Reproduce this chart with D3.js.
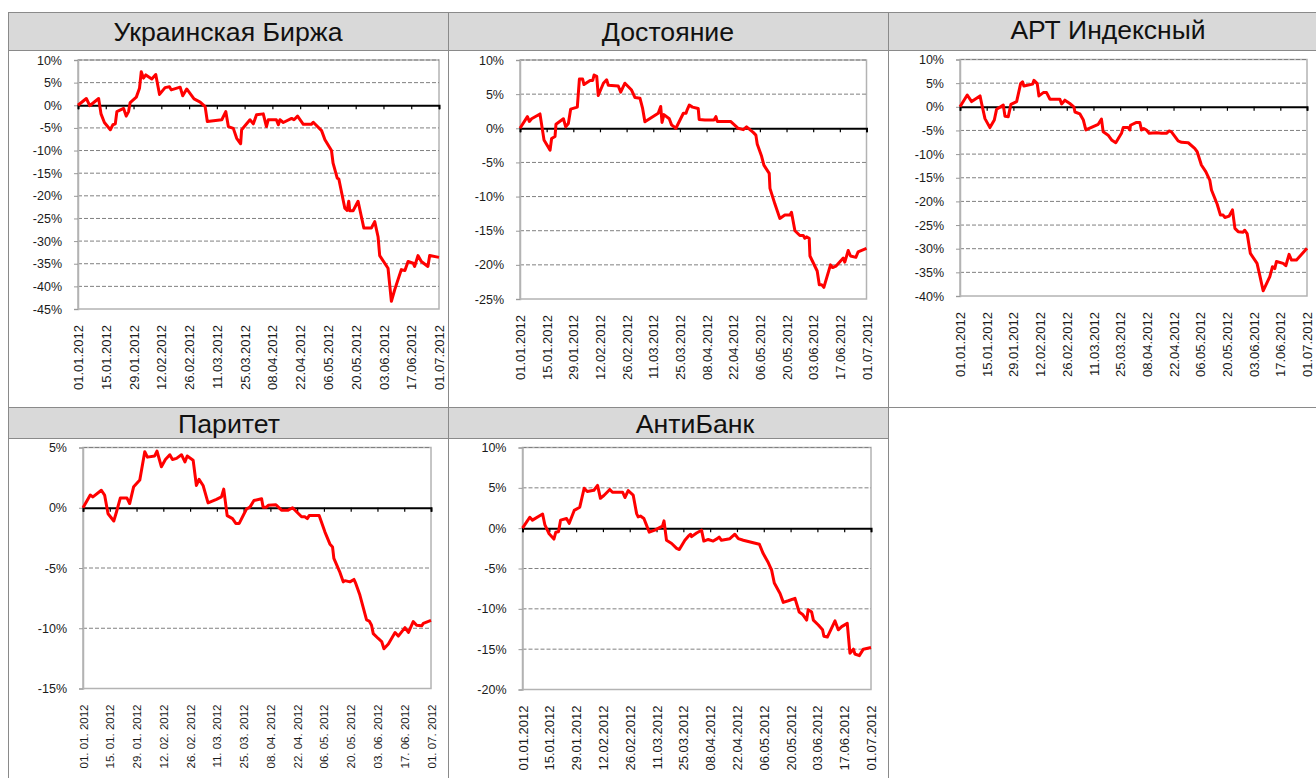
<!DOCTYPE html>
<html><head><meta charset="utf-8">
<script src="https://cdn.jsdelivr.net/npm/d3@7"></script>
<style>body{margin:0;background:#fff}svg{display:block}text{font-family:"Liberation Sans",Arial,sans-serif}</style>
</head><body>
<svg id="c" width="1316" height="778"></svg>
<script>
// ---------- data ----------
const titles = ["Украинская Биржа", "Достояние", "АРТ Индексный", "Паритет", "АнтиБанк"];
const xTickLabels = ["01.01.2012","15.01.2012","29.01.2012","12.02.2012","26.02.2012","11.03.2012","25.03.2012","08.04.2012","22.04.2012","06.05.2012","20.05.2012","03.06.2012","17.06.2012","01.07.2012"];
const xTickLabelsSpaced = ["01. 01. 2012","15. 01. 2012","29. 01. 2012","12. 02. 2012","26. 02. 2012","11. 03. 2012","25. 03. 2012","08. 04. 2012","22. 04. 2012","06. 05. 2012","20. 05. 2012","03. 06. 2012","17. 06. 2012","01. 07. 2012"];
const ukYTicks = [10,5,0,-5,-10,-15,-20,-25,-30,-35,-40,-45];
const dostYTicks = [10,5,0,-5,-10,-15,-20,-25];
const artYTicks = [10,5,0,-5,-10,-15,-20,-25,-30,-35,-40];
const parYTicks = [5,0,-5,-10,-15];
const antiYTicks = [10,5,0,-5,-10,-15,-20];

// days since 01.01.2012 and returns in %
const ukDays = [0,4.2,5.9,10.4,11.6,13.3,16.3,17.6,18.8,19.6,23,24.3,25.5,26.3,29.4,31,31.9,33,34.2,37.2,39.2,41.1,43.9,46.1,47,51.5,52.8,54.8,58.5,61.6,64.1,65.2,72.5,74.5,75.8,78.3,80,82,82.5,86.7,88.4,90,93.4,95,95.9,100,101,101.8,103.5,107.7,108.9,110.7,113.6,117.7,118.6,122.8,124.5,127.8,128.6,130.7,131.5,134.5,135.7,136.5,137,138.7,141.2,144.1,147.9,149.6,151.3,152.1,156.3,158,159.7,163,164.8,166.4,169,169.7,171.4,173.1,176.4,177.3,182];
const ukValues = [0,1.5,-0.1,1.5,-1.9,-3.8,-5.4,-4.3,-4.1,-1.4,-0.7,-2.4,-1.4,0.6,1.8,3.75,7.4,6.0,6.7,5.8,6.8,2.4,3.9,4.1,3.4,4.0,2.1,3.6,1.4,0.7,-0.3,-3.6,-3.2,-1.4,-4.7,-5.1,-7.3,-8.5,-5.4,-3.2,-4.1,-2.1,-1.9,-4.7,-3.2,-3.2,-4.3,-3.2,-3.8,-2.9,-3.2,-2.4,-4.2,-4.2,-3.75,-5.6,-7.6,-10,-12.8,-16.1,-16.3,-22.7,-23.2,-21.2,-23.3,-23.3,-21.2,-27.1,-27.1,-25.7,-29.1,-33.2,-36,-43.3,-40.7,-36.3,-36.5,-34.5,-34.9,-35.6,-33.2,-34.5,-35.6,-33.2,-33.6];

const dostDays = [0,3.9,4.9,6.1,10.5,12.6,15.8,16.6,18.4,18.9,22.8,24,25.4,26.6,30.1,31.2,32.9,33.6,36.8,38.2,38.9,40.3,41.1,43.8,45.5,46.4,51.6,52.9,55.1,58.6,60.4,63,64.4,65.6,72.6,73.9,74.6,75.6,78.4,79.6,81.9,85.8,87.2,87.8,88.9,90.6,93.6,94.1,97.1,101.9,102.9,103.6,110.6,114.6,117.3,119,122.5,123.9,124.6,126.9,128.1,130.9,131.3,133.9,136.5,139.1,141.8,142.6,144.4,147,148.8,149.6,150.5,151.9,152.3,156.1,157.2,158.4,159.6,163.1,164.2,165.9,169.8,170.6,172.4,173.6,176.4,177.6,182];
const dostValues = [0,1.7,1.0,1.4,2.1,-1.7,-3.2,-1.5,-1.2,0.6,1.4,0.2,0.7,2.8,3.1,7.2,7.2,6.4,7.0,7.0,7.8,7.6,4.8,6.6,7.1,6.3,6.2,5.3,6.6,5.6,4.5,4.4,2.9,0.95,2.2,3.2,0.85,2.0,1.4,0.5,0,2.2,2.2,2.7,3.4,3.1,2.9,1.3,1.2,1.2,1.7,1.0,1.0,0,-0.2,0.2,-0.6,-1.0,-2.3,-4.1,-5.4,-6.6,-8.8,-11.1,-13.2,-12.7,-12.7,-12.3,-15.0,-15.7,-15.7,-16.1,-15.9,-16.1,-18.7,-20.9,-22.9,-22.9,-23.3,-20.0,-20.4,-20.2,-19.0,-19.6,-17.9,-18.7,-18.9,-18.1,-17.6];

const artDays = [0,3.8,6.1,10.5,11.4,13.1,15.7,18,19.2,22.7,23.6,25.3,26.7,29.7,31.8,32.8,33.5,38.1,38.8,40.5,41.4,43.7,45.4,47.2,52.4,53.3,55,57.6,59.7,60.3,62.9,64.7,66,72.5,74.2,75.1,77.7,79.5,81.7,84.7,85.6,88.2,89.1,89.4,92.6,94.3,95.2,96.4,97.8,99.2,103.1,105.7,108.3,109.7,110.9,114.4,116.2,119.7,123.1,124.4,126.6,128.9,131,131.9,134.9,136.6,138,138.9,141.2,142.9,144.2,145.9,148.5,149.3,150.6,152.3,155.8,157.2,159,162.5,163.9,165.1,166,169.5,170.9,172.6,173.9,176.5,182];
const artValues = [0,2.5,1.1,2.3,0.6,-2.5,-4.4,-2.8,-0.5,0.35,-2.0,-2.1,0.5,1.1,4.9,5.3,4.4,4.8,5.6,4.9,2.3,3.0,3.0,1.6,1.6,0.6,1.4,0.7,0,-1.1,-1.5,-2.8,-4.9,-3.7,-2.6,-5.3,-6.0,-7.0,-7.6,-5.6,-4.4,-4.4,-4.9,-3.9,-3.3,-3.3,-4.9,-4.6,-4.9,-5.6,-5.5,-5.6,-5.6,-5.1,-5.3,-7.2,-7.5,-7.6,-8.8,-9.5,-12.3,-13.7,-15.5,-17.6,-20.6,-22.9,-22.9,-23.4,-23.1,-21.8,-25.7,-26.4,-26.5,-26.1,-26.8,-31.0,-33.1,-35.6,-38.9,-35.9,-33.8,-34.2,-32.7,-33.1,-33.6,-31.2,-32.4,-32.4,-29.9];

const parDays = [0,3.8,5.2,9.6,11.3,13.1,16.1,17.5,19.5,23,24.4,26.5,29.7,32.3,33.7,37.5,38.7,41,43.1,45.4,46.8,48.9,51.5,53.3,54.5,57.6,59.3,60.7,62.8,65.4,69.8,72.4,73.6,75.4,78.2,79.9,81.7,85.5,87.3,89.4,93.4,94.2,96,96.9,100.9,103.8,107.3,109.6,114.3,116,117.3,118.3,123.5,126.5,129.1,130.5,131.2,134.2,136.1,137,139.6,141.7,142.7,144.8,148.3,149.7,150.9,151.8,154.4,156.2,157.4,159.7,163.2,164.9,168.4,170.2,172.7,174.5,177.1,178,182];
const parValues = [0,1.05,0.9,1.45,1.05,-0.5,-1.1,-0.35,0.8,0.8,0.35,1.75,2.3,4.65,4.2,4.3,4.7,3.4,4.0,4.4,4.0,4.1,4.4,3.8,4.3,3.95,1.85,2.35,1.85,0.4,0.7,0.9,1.55,-0.65,-0.9,-1.3,-1.3,-0.1,0.05,0.6,0.75,0.05,0.05,0.2,0.25,-0.2,-0.2,0,-0.75,-0.75,-0.9,-0.65,-0.65,-2.0,-3.0,-3.25,-4.2,-5.3,-6.15,-6.05,-6.15,-5.95,-6.3,-7.25,-9.3,-9.4,-9.75,-10.45,-10.85,-11.1,-11.7,-11.3,-10.35,-10.65,-9.95,-10.35,-9.45,-9.75,-9.8,-9.6,-9.35];

const antiDays = [0,3.8,5.2,10.5,11.7,13.9,16.4,17.4,18.8,19.9,23,24.4,27,29.9,32.2,33.8,37.3,39.2,40.7,42.5,45.6,47,52.3,53.5,55.2,57.8,59.6,60.4,61.6,63.4,64.4,66.2,69.1,73.1,73.9,75.2,77.9,80.5,81.9,84.8,86.6,87.8,88.3,90.9,93.5,94.7,97,99.6,101.7,102.7,103.9,108.3,110.9,112.7,115.3,123.7,125.7,128.4,130.1,131.5,134.5,136.2,138.8,142.3,144.5,146.3,148.4,149.2,151,151.9,154.5,156.7,157.4,159.2,163.2,164.9,166.7,169.6,171,172.8,173.6,175.9,178,182];
const antiValues = [0,1.35,1.0,1.75,0.4,-0.7,-1.35,-0.5,-0.45,1.0,1.2,0.6,2.2,2.6,4.95,4.55,4.7,5.3,3.7,4.05,4.8,4.45,4.45,3.8,4.65,4.1,1.8,1.4,1.5,1.2,0.6,-0.5,-0.25,0.25,0.9,-1.5,-1.9,-2.5,-2.65,-1.5,-1.0,-0.75,-1.05,-0.6,-0.25,-1.6,-1.4,-1.6,-1.3,-1.1,-1.5,-1.3,-0.75,-1.3,-1.5,-2.0,-3.15,-4.3,-5.2,-6.8,-8.1,-9.2,-9.0,-8.7,-10.4,-10.7,-11.4,-10.1,-10.4,-11.4,-12.0,-12.6,-13.4,-13.5,-11.5,-12.6,-12.2,-11.8,-15.5,-15.0,-15.6,-15.8,-15.0,-14.8];

// ---------- layout ----------
const panels = [
  {title:titles[0], days:ukDays, values:ukValues, yTicks:ukYTicks, xLabels:xTickLabels, fs:13,
   plot:{l:78,t:60,r:439,b:309}, tx:228, ty:41, tfs:26.7},
  {title:titles[1], days:dostDays, values:dostValues, yTicks:dostYTicks, xLabels:xTickLabels, fs:13,
   plot:{l:520,t:60,r:866.5,b:299}, tx:668, ty:41, tfs:26.7},
  {title:titles[2], days:artDays, values:artValues, yTicks:artYTicks, xLabels:xTickLabels, fs:13,
   plot:{l:960,t:59.5,r:1307,b:296}, tx:1108, ty:38.5, tfs:26.5},
  {title:titles[3], days:parDays, values:parValues, yTicks:parYTicks, xLabels:xTickLabelsSpaced, fs:11.5,
   plot:{l:83,t:447.5,r:431,b:688.5}, tx:229, ty:433, tfs:26.7},
  {title:titles[4], days:antiDays, values:antiValues, yTicks:antiYTicks, xLabels:xTickLabels, fs:13,
   plot:{l:522.5,t:447.5,r:871,b:689.5}, tx:695, ty:433, tfs:26.7}
];

const svg = d3.select("#c");
const BORDER = "#8a8a8a";

// title bands
const bands = [
  {x:8,y:12,w:440,h:38},{x:448,y:12,w:440,h:38},{x:888,y:12,w:440,h:38},
  {x:8,y:407,w:440,h:31},{x:448,y:407,w:440,h:31}
];
svg.selectAll("rect.band").data(bands).join("rect")
  .attr("x",d=>d.x).attr("y",d=>d.y).attr("width",d=>d.w).attr("height",d=>d.h)
  .attr("fill","#d9d9d9");

// grid of cell borders
const gl = svg.append("g").attr("stroke",BORDER).attr("stroke-width",1).attr("shape-rendering","crispEdges");
const hLines = [[8,1316,12.5],[8,1316,50.5],[8,1316,407.5],[8,888,438.5]];
hLines.forEach(h=>gl.append("line").attr("x1",h[0]).attr("x2",h[1]).attr("y1",h[2]).attr("y2",h[2]));
const vLines = [[8.5,12,778],[448.5,12,778],[888.5,12,778]];
vLines.forEach(v=>gl.append("line").attr("x1",v[0]).attr("x2",v[0]).attr("y1",v[1]).attr("y2",v[2]));

const parseLbl = d3.utcParse("%d.%m.%Y");
const t0 = Date.UTC(2012,0,1), t1 = Date.UTC(2012,6,1);
const toDate = d => new Date(t0 + d*86400000);

panels.forEach(p=>{
  const P = p.plot;
  const g = svg.append("g");
  const x = d3.scaleUtc().domain([new Date(t0), new Date(t1)]).range([P.l, P.r]);
  const y = d3.scaleLinear().domain([d3.min(p.yTicks), d3.max(p.yTicks)]).range([P.b, P.t]);

  // title
  g.append("text").attr("x",p.tx).attr("y",p.ty).attr("text-anchor","middle")
    .attr("font-size",p.tfs).attr("fill","#111").text(p.title);

  // plot-area border
  g.append("rect").attr("x",P.l).attr("y",P.t).attr("width",P.r-P.l).attr("height",P.b-P.t)
    .attr("fill","#fff").attr("stroke","#b3b3b3").attr("stroke-width",1.5);

  // dashed gridlines
  g.append("g").selectAll("line").data(p.yTicks.filter(v=>v!==0 && v!==d3.min(p.yTicks))).join("line")
    .attr("x1",P.l).attr("x2",P.r).attr("y1",d=>y(d)).attr("y2",d=>y(d))
    .attr("stroke","#808080").attr("stroke-width",1).attr("stroke-dasharray","4,2");

  // y axis
  const yAxis = d3.axisLeft(y).tickValues(p.yTicks).tickSize(4).tickPadding(12)
    .tickFormat(v=>v+"%");
  const ya = g.append("g").attr("transform",`translate(${P.l},0)`).call(yAxis);
  ya.select(".domain").attr("stroke","#b3b3b3").attr("stroke-width",1.5);
  ya.selectAll(".tick line").attr("stroke","#999");
  ya.selectAll(".tick text").attr("font-size",12.5).attr("fill","#1a1a1a")
    .attr("font-family",'"Liberation Sans",Arial,sans-serif');

  // x axis at zero (line + ticks)
  const tickDates = xTickLabels.map(s=>parseLbl(s));
  const xAxis0 = d3.axisBottom(x).tickValues(tickDates).tickSize(4).tickFormat("");
  const xa0 = g.append("g").attr("transform",`translate(0,${y(0)})`).call(xAxis0);
  xa0.select(".domain").attr("stroke","#000").attr("stroke-width",2);
  xa0.selectAll(".tick line").attr("stroke","#000").attr("stroke-width",1.2);

  // x labels at bottom
  const xAxisB = d3.axisBottom(x).tickValues(tickDates).tickSize(0)
    .tickFormat((d,i)=>p.xLabels[i]);
  const xb = g.append("g").attr("transform",`translate(0,${P.b})`).call(xAxisB);
  xb.select(".domain").remove();
  xb.selectAll(".tick text").attr("font-size",p.fs).attr("fill","#1a1a1a")
    .attr("font-family",'"Liberation Sans",Arial,sans-serif')
    .attr("text-anchor","end").attr("transform","rotate(-90)")
    .attr("x",-16).attr("y",0).attr("dy","0.35em");

  // series line
  const pts = p.days.map((d,i)=>[toDate(d), p.values[i]]);
  g.append("path").datum(pts)
    .attr("fill","none").attr("stroke","#ff0000").attr("stroke-width",3)
    .attr("stroke-linejoin","round")
    .attr("d", d3.line().x(d=>x(d[0])).y(d=>y(d[1])));
});
</script>
</body></html>
